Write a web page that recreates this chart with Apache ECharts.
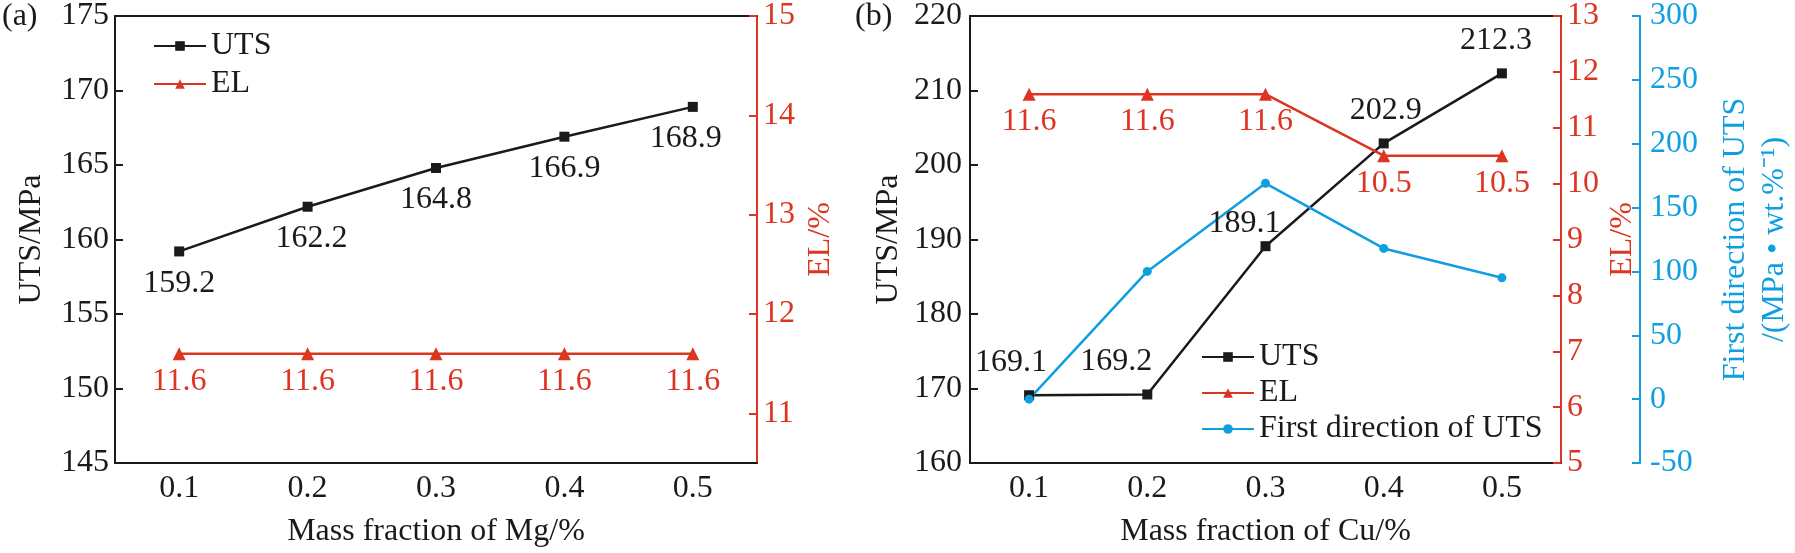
<!DOCTYPE html>
<html>
<head>
<meta charset="utf-8">
<script src="https://cdn.jsdelivr.net/npm/echarts@6/dist/echarts.min.js"></script>
<style>
  html, body { margin: 0; padding: 0; background: #fff; }
  #chart { width: 1795px; height: 553px; }
</style>
</head>
<body>
<div id="chart"></div>
<script>
// (a) Mg series
const MG_X = ['0.1', '0.2', '0.3', '0.4', '0.5'];
const MG_UTS = [159.2, 162.2, 164.8, 166.9, 168.9];
const MG_EL = [11.6, 11.6, 11.6, 11.6, 11.6];
const MG_EL_TICKS = [11, 12, 13, 14, 15];

// (b) Cu series
const CU_X = ['0.1', '0.2', '0.3', '0.4', '0.5'];
const CU_UTS = [169.1, 169.2, 189.1, 202.9, 212.3];
const CU_EL = [11.6, 11.6, 11.6, 10.5, 10.5];
const CU_DIR = [0, 100, 169, 118, 95];

const BLACK = '#1a1a1a';
const RED = '#dc3522';
const BLUE = '#0f9fe0';
const FONT = '"Liberation Serif", "Times New Roman", serif';
const FS = 32;

const txt = (color) => ({ fontFamily: FONT, fontSize: FS, color: color });

const catAxis = (grid, data, name) => ({
  type: 'category',
  gridIndex: grid,
  data: data,
  boundaryGap: true,
  axisLine: { onZero: false, lineStyle: { color: BLACK, width: 2 } },
  axisTick: { inside: true, alignWithLabel: true, length: 9, lineStyle: { width: 2 } },
  axisLabel: { ...txt(BLACK), margin: 10 },
  name: name,
  nameLocation: 'middle',
  nameGap: 53,
  nameTextStyle: txt(BLACK)
});

// top border of each plot
const topAxis = (grid, data) => ({
  type: 'category',
  gridIndex: grid,
  data: data,
  position: 'top',
  axisLine: { onZero: false, lineStyle: { color: BLACK, width: 2 } },
  axisTick: { show: false },
  axisLabel: { show: false }
});

const valAxis = (o) => ({
  type: 'value',
  gridIndex: o.grid,
  position: o.pos,
  offset: o.offset || 0,
  min: o.min,
  max: o.max,
  interval: o.interval,
  splitLine: { show: false },
  axisLine: { show: true, onZero: false, lineStyle: { color: o.color, width: 2 } },
  axisTick: { show: true, inside: true, length: 8, lineStyle: { width: 2 }, customValues: o.ticks },
  axisLabel: { ...txt(o.color), margin: o.margin || 6, customValues: o.ticks },
  name: o.name,
  nameLocation: 'middle',
  nameGap: o.nameGap,
  nameTextStyle: { ...txt(o.color), lineHeight: 39 }
});

const option = {
  animation: false,
  textStyle: { fontFamily: FONT },
  graphic: [
    { type: 'text', left: 2, top: 1, style: { text: '(a)', fill: BLACK, font: FS + 'px ' + FONT } },
    { type: 'text', left: 855, top: 1, style: { text: '(b)', fill: BLACK, font: FS + 'px ' + FONT } }
  ],
  legend: [
    {
      data: ['UTS', 'EL'],
      orient: 'vertical',
      left: 148, top: 25,
      itemWidth: 52, itemHeight: 12, itemGap: 6,
      textStyle: txt(BLACK)
    },
    {
      data: ['UTS', 'EL', 'First direction of UTS'],
      orient: 'vertical',
      left: 1196, top: 336,
      itemWidth: 52, itemHeight: 12, itemGap: 4,
      textStyle: txt(BLACK)
    }
  ],
  grid: [
    { left: 115, top: 13, width: 642, height: 453 },
    { left: 970, top: 13, width: 593, height: 453 }
  ],
  xAxis: [
    catAxis(0, MG_X, 'Mass fraction of Mg/%'),
    topAxis(0, MG_X),
    catAxis(1, CU_X, 'Mass fraction of Cu/%'),
    topAxis(1, CU_X)
  ],
  yAxis: [
    valAxis({ grid: 0, pos: 'left', color: BLACK, min: 145, max: 175, interval: 5, name: 'UTS/MPa', nameGap: 64 }),
    valAxis({ grid: 0, pos: 'right', color: RED, min: 10.5, max: 15, ticks: MG_EL_TICKS, name: 'EL/%', nameGap: 44 }),
    valAxis({ grid: 1, pos: 'left', color: BLACK, min: 160, max: 220, interval: 10, name: 'UTS/MPa', nameGap: 62, margin: 8 }),
    valAxis({ grid: 1, pos: 'right', color: RED, min: 5, max: 13, interval: 1, name: 'EL/%', nameGap: 40 }),
    valAxis({ grid: 1, pos: 'right', offset: 79, color: BLUE, min: -50, max: 300, interval: 50,
      name: 'First direction of UTS\n/(MPa • wt.%⁻¹)', nameGap: 76, margin: 10 })
  ],
  series: [
    {
      name: 'UTS', type: 'line', xAxisIndex: 0, yAxisIndex: 0,
      data: MG_UTS.map((v, i) => ({
        value: v,
        label: { offset: [[0, 0], [4, 0], [0, 0], [0, 0], [-7, 0]][i] }
      })),
      symbol: 'rect', symbolSize: 10,
      lineStyle: { color: BLACK, width: 2.5 }, itemStyle: { color: BLACK },
      label: { show: true, position: 'bottom', distance: 11, ...txt(BLACK) }
    },
    {
      name: 'EL', type: 'line', xAxisIndex: 0, yAxisIndex: 1,
      data: MG_EL,
      symbol: 'triangle', symbolSize: 13,
      lineStyle: { color: RED, width: 2.5 }, itemStyle: { color: RED },
      label: { show: true, position: 'bottom', distance: 5, ...txt(RED) }
    },
    {
      name: 'UTS', type: 'line', xAxisIndex: 2, yAxisIndex: 2,
      data: CU_UTS.map((v, i) => ({
        value: v,
        label: { offset: [[-18, 0], [-31, 0], [-21, 10], [2, 0], [-6, 0]][i] }
      })),
      symbol: 'rect', symbolSize: 10,
      lineStyle: { color: BLACK, width: 2.5 }, itemStyle: { color: BLACK },
      label: { show: true, position: 'top', distance: 12, ...txt(BLACK) },
      z: 3
    },
    {
      name: 'EL', type: 'line', xAxisIndex: 2, yAxisIndex: 3,
      data: CU_EL,
      symbol: 'triangle', symbolSize: 13,
      lineStyle: { color: RED, width: 2.5 }, itemStyle: { color: RED },
      label: { show: true, position: 'bottom', distance: 5, ...txt(RED) }
    },
    {
      name: 'First direction of UTS', type: 'line', xAxisIndex: 2, yAxisIndex: 4,
      data: CU_DIR,
      symbol: 'circle', symbolSize: 9,
      lineStyle: { color: BLUE, width: 2.5 }, itemStyle: { color: BLUE }
    }
  ]
};

const myChart = echarts.init(document.getElementById('chart'));
myChart.setOption(option);
</script>
</body>
</html>
